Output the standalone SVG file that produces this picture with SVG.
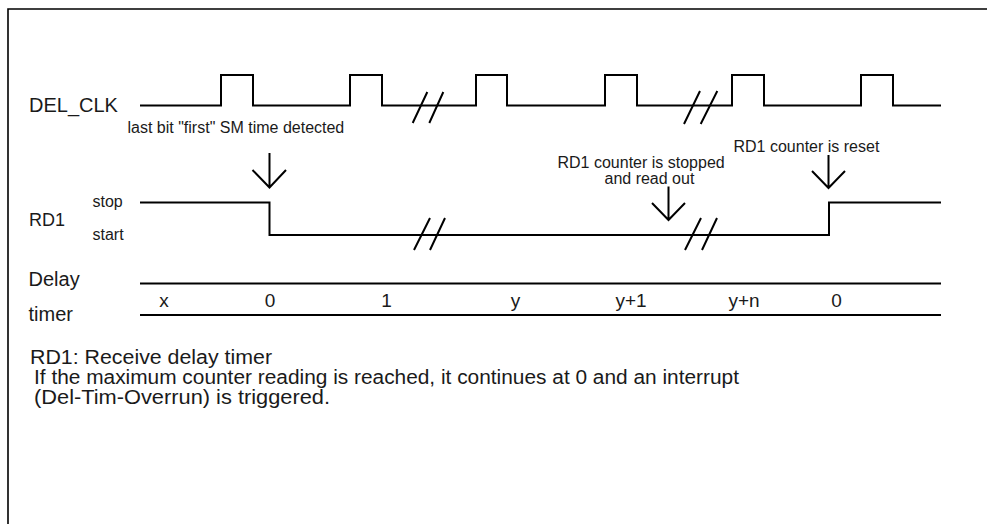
<svg xmlns="http://www.w3.org/2000/svg" width="987" height="524" viewBox="0 0 987 524">
<style>
.w{fill:none;stroke:#000;stroke-width:2;stroke-linejoin:miter;stroke-linecap:butt}
.b{fill:none;stroke:#000;stroke-width:1.6}
text{font-family:"Liberation Sans",Arial,sans-serif;fill:#1a1a1a}
.l{font-size:20px}
.s{font-size:16px}
.v{font-size:19px;text-anchor:middle}
</style>
<rect width="987" height="524" fill="#fff"/>
<g id="frame"><path class="b" d="M8,524 V9 H987"/></g>
<g id="del_clk">
<text class="l" x="29" y="112">DEL_CLK</text>
<path class="w" d="M140,105.5 H221 V75 H253 V105.5 H350 V75 H382 V105.5 H476 V75 H507 V105.5 H605 V75 H637 V105.5 H732 V75 H764 V105.5 H861 V75 H893 V105.5 H941"/>
<path class="w" d="M412.7,123 L427.3,92 M429.3,123 L443.3,92 M684,124 L700,91 M700.7,124 L717.3,91"/>
<text class="s" x="127.5" y="133">last bit "first" SM time detected</text>
</g>
<g id="rd1">
<text class="l" x="29" y="226" style="font-size:18px">RD1</text>
<text class="s" x="92.5" y="207">stop</text>
<text class="s" x="92.5" y="240">start</text>
<path class="w" d="M140,202.5 H269.5 V235 H829 V202.5 H941"/>
<path class="w" d="M414,250 L430,218 M430,250 L445,218 M685,250 L701,218 M702,250 L717,218"/>
</g>
<g id="connectors">
<path class="w" d="M269.5,153 V187.5 M252.5,170 L269.5,187.5 L286,170"/>
<path class="w" d="M668.5,186.5 V220 M652,203 L668.5,220 L685,203"/>
<path class="w" d="M828.5,155 V188 M812,171 L828.5,188 L845,171"/>
</g>
<g id="annotations">
<text class="s" x="557.5" y="168">RD1 counter is stopped</text>
<text class="s" x="604.5" y="184">and read out</text>
<text class="s" x="733.5" y="152">RD1 counter is reset</text>
</g>
<g id="delay_timer">
<text class="l" x="28.5" y="286">Delay</text>
<text class="l" x="28.5" y="321">timer</text>
<path class="w" d="M140,283.5 H941 M140,315 H941"/>
<text class="v" x="164" y="307">x</text>
<text class="v" x="270" y="307">0</text>
<text class="v" x="386.5" y="307">1</text>
<text class="v" x="515.5" y="307">y</text>
<text class="v" x="631" y="307">y+1</text>
<text class="v" x="744" y="307">y+n</text>
<text class="v" x="836.5" y="307">0</text>
</g>
<g id="notes">
<text class="l" x="30" y="364" textLength="242" lengthAdjust="spacingAndGlyphs">RD1: Receive delay timer</text>
<text class="l" x="34" y="384" textLength="705" lengthAdjust="spacingAndGlyphs">If the maximum counter reading is reached, it continues at 0 and an interrupt</text>
<text class="l" x="34" y="404" textLength="296" lengthAdjust="spacingAndGlyphs">(Del-Tim-Overrun) is triggered.</text>
</g>
</svg>
